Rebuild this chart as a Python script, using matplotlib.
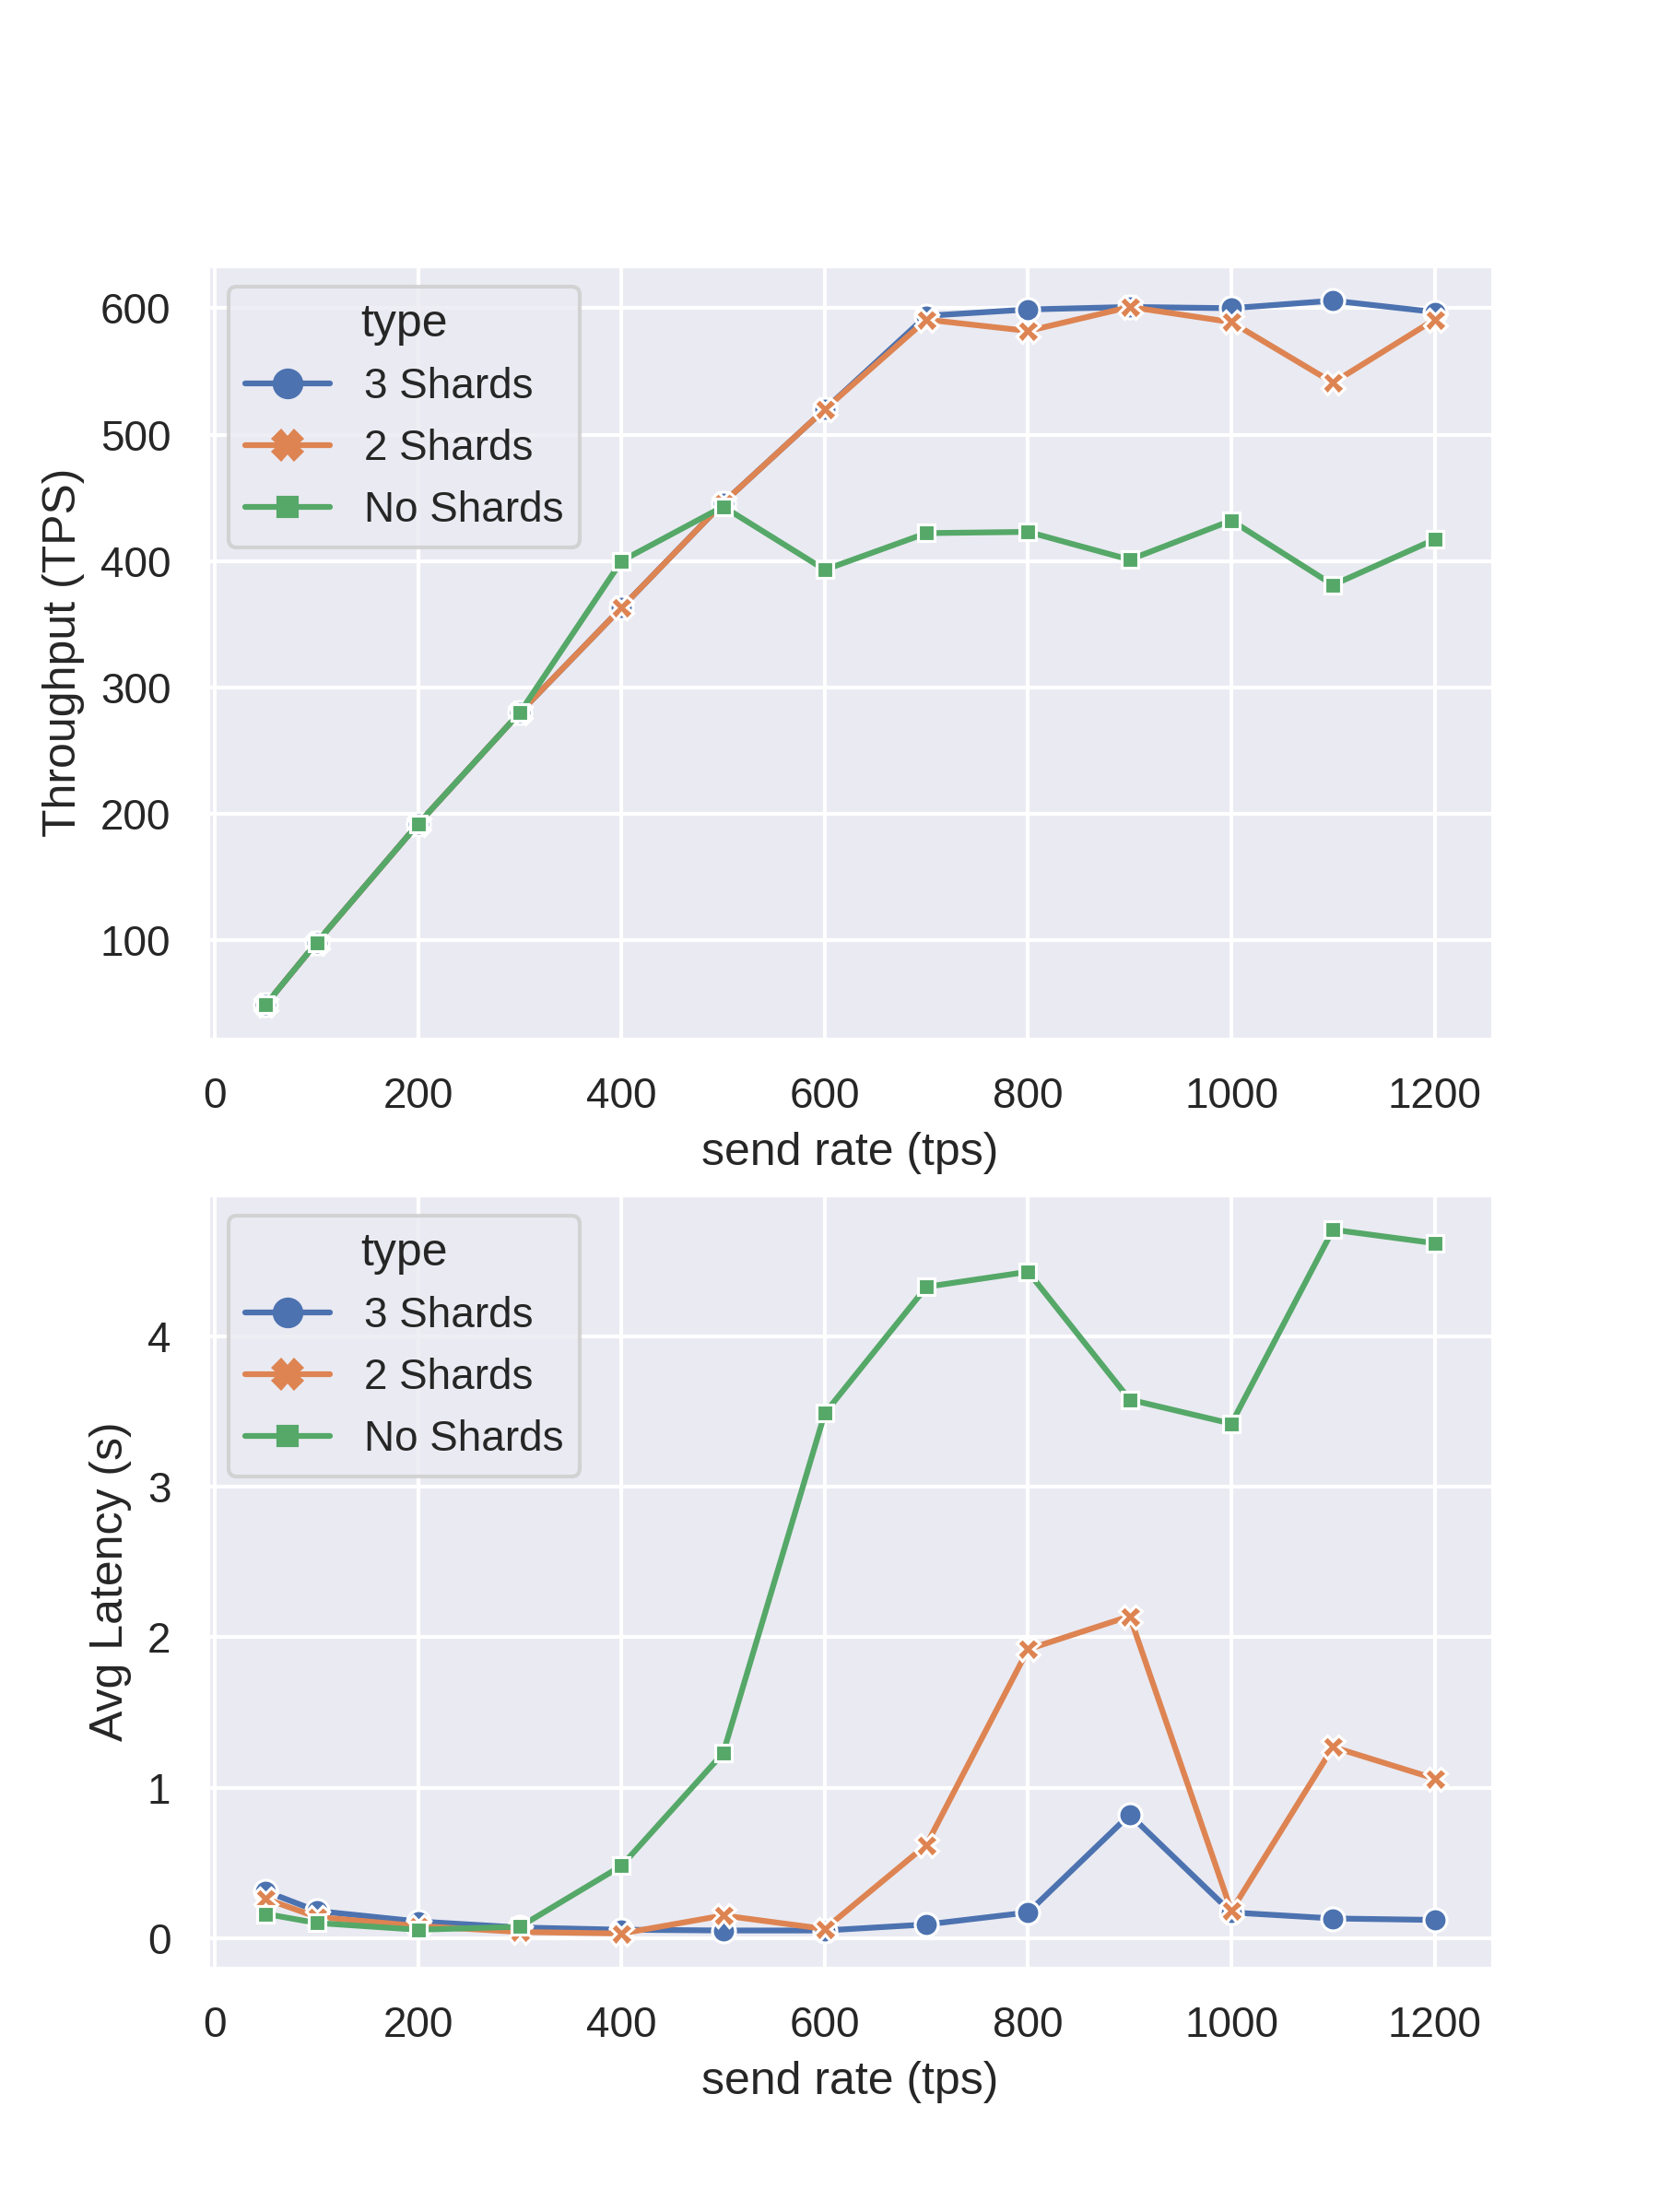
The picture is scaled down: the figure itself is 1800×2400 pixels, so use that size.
import numpy as np
import pandas as pd
import matplotlib
matplotlib.use("Agg")
import matplotlib.pyplot as plt
import seaborn as sns

send_rate = [50, 100, 200, 300, 400, 500, 600, 700, 800, 900, 1000, 1100, 1200]
types = ["3 Shards", "2 Shards", "No Shards"]

# throughput (TPS)
tput_3 = [49, 98, 192, 280, 363, 446, 520, 594, 599, 601, 600, 606, 597]
tput_2 = [49, 98, 192, 280, 363, 446, 520, 591, 582, 601, 589, 541, 591]
tput_0 = [49, 98, 192, 280, 400, 443, 393, 422, 423, 401, 432, 381, 417]

# avg latency (s)
lat_3 = [0.31, 0.18, 0.11, 0.07, 0.055, 0.05, 0.05, 0.09, 0.17, 0.82, 0.17, 0.13, 0.12]
lat_2 = [0.26, 0.14, 0.08, 0.04, 0.03, 0.15, 0.06, 0.62, 1.92, 2.14, 0.18, 1.27, 1.06]
lat_0 = [0.16, 0.10, 0.055, 0.075, 0.48, 1.23, 3.49, 4.33, 4.43, 3.58, 3.42, 4.71, 4.62]

rows = []
for t, tp, lt in zip(types, [tput_3, tput_2, tput_0], [lat_3, lat_2, lat_0]):
    for x, a, b in zip(send_rate, tp, lt):
        rows.append({"send rate (tps)": x, "Throughput (TPS)": a,
                     "Avg Latency (s)": b, "type": t})
df = pd.DataFrame(rows)

sns.set_theme()
plt.rcParams['font.family'] = ['Liberation Sans', 'DejaVu Sans']

fig, (ax1, ax2) = plt.subplots(2, 1, figsize=(6, 8))

sns.lineplot(data=df, x="send rate (tps)", y="Throughput (TPS)", hue="type",
             style="type", markers=True, dashes=False, ax=ax1)
sns.lineplot(data=df, x="send rate (tps)", y="Avg Latency (s)", hue="type",
             style="type", markers=True, dashes=False, ax=ax2)

for ax in (ax1, ax2):
    ax.set_xticks([0, 200, 400, 600, 800, 1000, 1200])
    leg = ax.legend(title="type", loc="upper left")
    # old-style legend handles: bigger markers, no white edge
    for h in leg.legend_handles:
        h.set_markersize(7)
        h.set_markeredgecolor(h.get_color())
        h.set_markeredgewidth(1)

ax1.set_yticks([100, 200, 300, 400, 500, 600])
ax2.set_yticks([0, 1, 2, 3, 4])

fig.savefig("out.png", dpi=300)
